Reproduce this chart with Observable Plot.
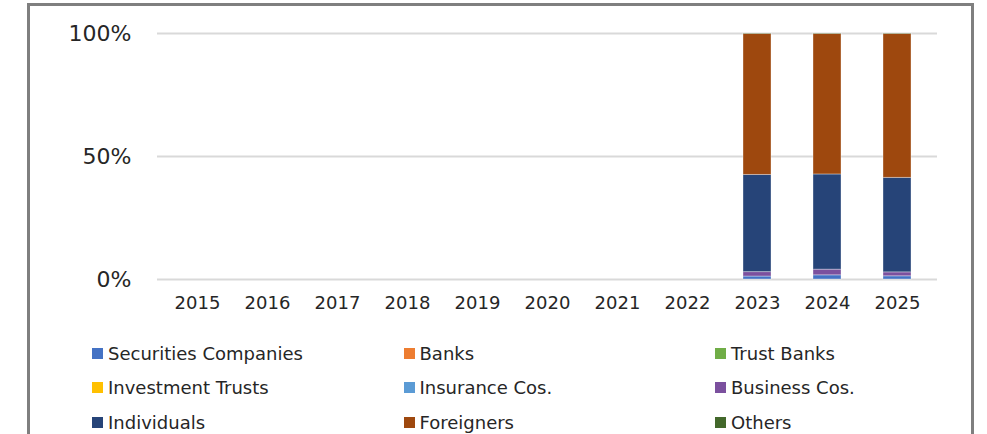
<!DOCTYPE html>
<html>
<head>
<meta charset="utf-8">
<script src="https://cdn.jsdelivr.net/npm/d3@7"></script>
<script src="https://cdn.jsdelivr.net/npm/@observablehq/plot@0.6"></script>
<style>
  html, body { margin: 0; padding: 0; background: #fff; overflow: hidden; width: 987px; height: 434px; }
  body { position: relative; font-family: "DejaVu Sans", Verdana, sans-serif; color: #262626; }
  #frame { position: absolute; left: 27px; top: 3px; width: 947px; height: 480px; border: 3px solid #7f7f7f; box-sizing: border-box; }
  #chart { position: absolute; left: 0; top: 0; }
  #legend { position: absolute; left: 92px; top: 336px; display: grid; grid-template-columns: 311.5px 311.5px 250px; grid-auto-rows: 34.5px; font-size: 18px; }
  .item { display: flex; align-items: center; white-space: nowrap; }
  .sw { width: 11px; height: 11px; margin-right: 5px; flex: none; }
</style>
</head>
<body>
<div id="frame"></div>
<div id="chart"></div>
<div id="legend"></div>
<script>
const years = ["2015","2016","2017","2018","2019","2020","2021","2022","2023","2024","2025"];
const seriesNames = ["Securities Companies","Banks","Trust Banks","Investment Trusts","Insurance Cos.","Business Cos.","Individuals","Foreigners","Others"];
const seriesColors = ["#4472C4","#ED7D31","#70AD47","#FFC000","#5B9BD5","#7B509E","#264478","#9E480E","#43682B"];
const yTicks = [0, 50, 100];

// values in % per year (null = no data)
const securitiesCompanies = [null,null,null,null,null,null,null,null,1.2,1.7,1.3];
const banks               = [null,null,null,null,null,null,null,null,0,0,0];
const trustBanks          = [null,null,null,null,null,null,null,null,0,0,0];
const investmentTrusts    = [null,null,null,null,null,null,null,null,0,0,0];
const insuranceCos        = [null,null,null,null,null,null,null,null,0,0,0];
const businessCos         = [null,null,null,null,null,null,null,null,1.8,2.3,1.6];
const individuals         = [null,null,null,null,null,null,null,null,39.5,38.7,38.4];
const foreigners          = [null,null,null,null,null,null,null,null,57.3,57.1,58.5];
const others              = [null,null,null,null,null,null,null,null,0.2,0.2,0.2];

const seriesValues = [securitiesCompanies, banks, trustBanks, investmentTrusts, insuranceCos, businessCos, individuals, foreigners, others];

const data = [];
seriesNames.forEach((s, i) => {
  years.forEach((y, j) => {
    const v = seriesValues[i][j];
    if (v != null) data.push({year: y, series: s, value: v});
  });
});

const chart = Plot.plot({
  width: 987,
  height: 320,
  marginLeft: 157,
  marginRight: 50,
  marginTop: 33,
  marginBottom: 41,
  style: {fontFamily: '"DejaVu Sans", Verdana, sans-serif', color: "#262626", background: "transparent", overflow: "visible"},
  x: {domain: years, paddingInner: 0.605, paddingOuter: 0.3025, label: null},
  y: {domain: [0, 100], label: null},
  color: {domain: seriesNames, range: seriesColors},
  marks: [
    Plot.ruleY(yTicks, {stroke: "#d9d9d9", strokeWidth: 2}),
    Plot.barY(data, {x: "year", y: "value", fill: "series", order: seriesNames, stroke: "white", strokeOpacity: 0.35, strokeWidth: 1}),
    Plot.axisY({ticks: yTicks, tickFormat: d => d + "%", tickSize: 0, tickPadding: 26, fontSize: 22, label: null}),
    Plot.axisX({tickSize: 0, tickPadding: 17, fontSize: 18, label: null})
  ]
});
document.getElementById("chart").appendChild(chart);

const legend = document.getElementById("legend");
seriesNames.forEach((s, i) => {
  const it = document.createElement("div");
  it.className = "item";
  const sw = document.createElement("span");
  sw.className = "sw";
  sw.style.background = seriesColors[i];
  const t = document.createElement("span");
  t.textContent = s;
  it.appendChild(sw);
  it.appendChild(t);
  legend.appendChild(it);
});
</script>
</body>
</html>
